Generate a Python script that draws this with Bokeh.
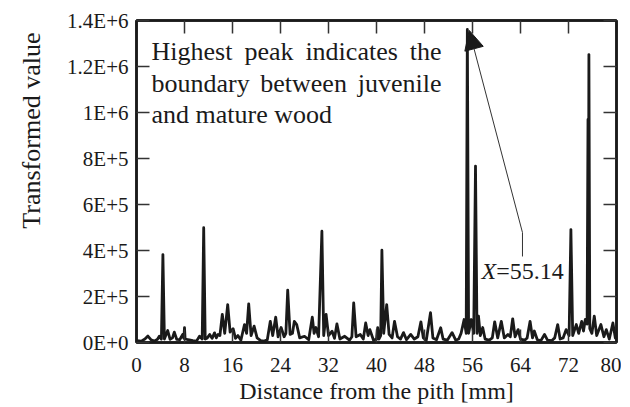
from bokeh.plotting import figure
from bokeh.models import LinearAxis, FixedTicker, Arrow, NormalHead, Range1d, Title
from bokeh.core.properties import value
from bokeh.embed import file_html
from bokeh.resources import INLINE

# ---- data ----
distance_mm = [
    0, 0.8, 1.4, 1.9, 2.4, 3.0, 3.5, 3.8, 4.15, 4.4, 4.65, 5.2, 5.6, 6.0, 6.3, 6.7,
    7.2, 7.7, 7.9, 8.0, 8.1, 8.6, 9.4, 10.0, 10.5, 10.95, 11.2, 11.45, 11.8, 12.2,
    12.6, 13.0, 13.3, 13.6, 13.9, 14.3, 14.7, 15.2, 15.6, 16.1, 16.5, 16.9, 17.4,
    18.0, 18.35, 18.7, 19.1, 19.6, 20.1, 20.7, 21.3, 21.8, 22.3, 22.7, 23.2, 23.6,
    24.1, 24.6, 24.9, 25.2, 25.6, 26.0, 26.3, 26.7, 27.2, 28.0, 28.7, 29.3, 29.6,
    29.9, 30.35, 30.9, 31.2, 31.6, 32.0, 32.6, 33.0, 33.4, 33.9, 34.7, 35.5, 35.9,
    36.2, 36.6, 37.3, 37.8, 38.2, 38.6, 38.9, 39.5, 40.0, 40.2, 40.4, 40.7, 40.9,
    41.2, 41.7, 42.1, 42.6, 43.0, 43.5, 44.0, 44.5, 45.0, 45.7, 46.3, 46.9, 47.4,
    47.8, 48.3, 49.0, 49.4, 50.0, 50.7, 51.1, 51.8, 52.6, 53.2, 53.7, 54.1, 54.6,
    54.95, 55.14, 55.35, 55.8, 56.2, 56.5, 56.75, 57.0, 57.3, 57.7, 58.1, 58.8,
    59.3, 59.7, 60.2, 60.8, 61.3, 61.9, 62.3, 62.7, 63.1, 63.6, 64.0, 64.7, 65.1,
    65.6, 66.0, 66.3, 66.8, 67.4, 68.0, 68.5, 69.2, 69.7, 70.2, 70.6, 71.1, 71.6,
    72.1, 72.4, 72.7, 73.3, 73.7, 74.2, 74.5, 74.8, 75.1, 75.25, 75.32, 75.4,
    75.55, 75.9, 76.3, 76.7, 77.4, 77.9, 78.3, 78.8, 79.4, 79.8, 80.0,
]
transformed_value = [
    8000, 6000, 15000, 28000, 12000, 6000, 14000, 27000, 15000, 382000, 15000,
    52000, 14000, 20000, 45000, 14000, 12000, 35000, 18000, 65000, 16000, 12000,
    8000, 6000, 27000, 15000, 499000, 15000, 20000, 35000, 18000, 42000, 20000,
    35000, 30000, 122000, 40000, 165000, 45000, 60000, 18000, 30000, 10000, 78000,
    40000, 168000, 30000, 71000, 20000, 8000, 6000, 12000, 92000, 30000, 110000,
    25000, 65000, 25000, 40000, 228000, 35000, 40000, 92000, 78000, 20000, 27000,
    12000, 110000, 40000, 65000, 25000, 484000, 30000, 122000, 30000, 49000, 18000,
    81000, 15000, 27000, 10000, 25000, 172000, 25000, 35000, 15000, 85000, 30000,
    56000, 10000, 15000, 65000, 15000, 30000, 401000, 40000, 165000, 35000, 20000,
    92000, 25000, 15000, 43000, 12000, 35000, 15000, 25000, 90000, 20000, 10000,
    130000, 20000, 12000, 64000, 15000, 10000, 43000, 10000, 15000, 40000, 100000,
    40000, 1361000, 40000, 100000, 40000, 767000, 40000, 115000, 30000, 65000,
    15000, 10000, 20000, 90000, 20000, 92000, 20000, 35000, 25000, 103000, 25000,
    56000, 15000, 10000, 20000, 92000, 20000, 50000, 12000, 8000, 35000, 10000,
    8000, 20000, 78000, 15000, 20000, 56000, 30000, 491000, 30000, 78000, 40000,
    92000, 50000, 100000, 80000, 970000, 300000, 1252000, 60000, 40000, 115000,
    30000, 78000, 25000, 56000, 15000, 85000, 20000, 15000,
]

x_ticks = [0, 8, 16, 24, 32, 40, 48, 56, 64, 72, 80]
y_ticks = [0, 200000, 400000, 600000, 800000, 1000000, 1200000, 1400000]
y_tick_labels = ["0E+0", "2E+5", "4E+5", "6E+5", "8E+5", "1E+6", "1.2E+6", "1.4E+6"]

x_title = "Distance from the pith [mm]"
y_title = "Transformed value"
note_words = ["Highest", "peak", "indicates", "the",
              "boundary", "between", "juvenile",
              "and mature wood"]
note_word_x = [2.5, 17.98, 28.15, 45.53, 2.5, 20.63, 36.87, 2.5]
note_word_y = [1264000] * 4 + [1127000] * 3 + [990000]
peak_x = 55.14

FONT = "Liberation Serif"
INK = "#1a1a1a"

p = figure(frame_width=480, frame_height=322,
           x_range=Range1d(0, 80), y_range=Range1d(0, 1400000),
           output_backend="svg", toolbar_location=None,
           min_border_left=136, min_border_right=5, min_border_top=20,
           min_border_bottom=10, background_fill_color="white",
           border_fill_color="white")
p.xgrid.visible = False
p.ygrid.visible = False
p.outline_line_color = INK
p.outline_line_width = 2.5


def style_axis(ax, labels=True):
    ax.major_tick_in = 13
    ax.major_tick_out = 0
    ax.minor_tick_line_color = None
    ax.axis_line_color = INK
    ax.axis_line_width = 2.5
    ax.major_tick_line_color = "#333333"
    ax.major_tick_line_width = 1.5
    ax.major_label_text_font = FONT
    if labels:
        ax.major_label_text_color = INK
        ax.major_label_text_font_size = "21px"
    else:
        ax.major_label_text_color = None
        ax.major_label_text_font_size = "1px"
        ax.major_label_standoff = 0


p.xaxis.ticker = FixedTicker(ticks=x_ticks)
p.yaxis.ticker = FixedTicker(ticks=y_ticks)
p.yaxis.major_label_overrides = {t: l for t, l in zip(y_ticks, y_tick_labels)}
style_axis(p.xaxis[0])
style_axis(p.yaxis[0])
p.xaxis.major_label_standoff = 15
p.yaxis.major_label_standoff = 8
p.xaxis.axis_label = x_title
p.xaxis.axis_label_text_font = FONT
p.xaxis.axis_label_text_font_style = "normal"
p.xaxis.axis_label_text_font_size = "24px"
p.xaxis.axis_label_text_color = INK
p.xaxis.axis_label_standoff = 3

top_ax = LinearAxis(ticker=FixedTicker(ticks=x_ticks))
right_ax = LinearAxis(ticker=FixedTicker(ticks=y_ticks))
style_axis(top_ax, labels=False)
style_axis(right_ax, labels=False)
p.add_layout(top_ax, "above")
p.add_layout(right_ax, "right")

# y-axis title placed in the upper part of the left side, as in the reference
p.add_layout(Title(text=y_title, align="right", offset=12, standoff=33,
                   vertical_align="top",
                   text_font=FONT, text_font_size="26px",
                   text_font_style="normal", text_color=INK), "left")

p.line(distance_mm, transformed_value, line_color=INK, line_width=2.8,
       line_join="round")

# annotation text
p.text(x=note_word_x, y=note_word_y, text=note_words,
       text_font=value(FONT), text_font_size="26px", text_color=INK,
       text_baseline="alphabetic", text_align="left")

# X=55.14 callout
p.text(x=[57.5], y=[309000], text=["X"], text_font=value(FONT),
       text_font_size="24px", text_font_style="italic", text_color=INK,
       text_baseline="alphabetic")
p.text(x=[59.95], y=[309000], text=["=%.2f" % peak_x], text_font=value(FONT),
       text_font_size="24px", text_color=INK, text_baseline="alphabetic")
p.add_layout(Arrow(end=None, x_start=64.33, y_start=374000, x_end=64.33,
                   y_end=478000, line_color="#333333", line_width=1))
p.add_layout(Arrow(end=NormalHead(size=19, fill_color=INK, line_color=INK),
                   x_start=64.33, y_start=478000, x_end=55.45, y_end=1357000,
                   line_color="#333333", line_width=1))

open("out.html", "w").write(file_html(p, INLINE))
